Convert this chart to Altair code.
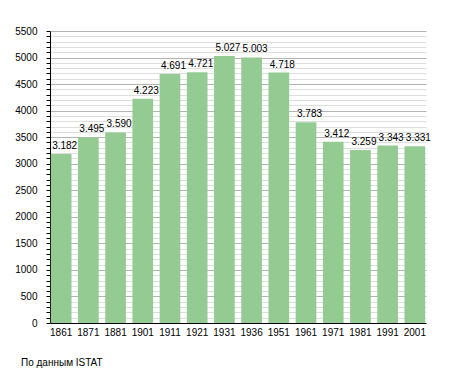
import altair as alt
import pandas as pd

years = ["1861", "1871", "1881", "1901", "1911", "1921", "1931", "1936",
         "1951", "1961", "1971", "1981", "1991", "2001"]
population = [3182, 3495, 3590, 4223, 4691, 4721, 5027, 5003,
              4718, 3783, 3412, 3259, 3343, 3331]
y_ticks = list(range(0, 5501, 100))
source_note = "По данным  ISTAT"

labels = [f"{v:,}".replace(",", ".") for v in population]
df = pd.DataFrame({"year": years, "pop": population, "label": labels})

FONT = "Liberation Sans"
FS = 10

base = alt.Chart(df)

bars = base.mark_bar(color="#93cb93").encode(
    x=alt.X("year:N", sort=None,
            scale=alt.Scale(paddingInner=0.24, paddingOuter=0.03),
            axis=alt.Axis(title=None, ticks=False, labelAngle=0, labelPadding=4,
                          domainColor="black", labelColor="black",
                          labelFontSize=FS, labelFont=FONT)),
    y=alt.Y("pop:Q",
            scale=alt.Scale(domain=[0, 5500], nice=False, zero=True),
            axis=alt.Axis(title=None, values=y_ticks, tickCount=100, format="d",
                          labelOverlap=False, labelFlush=False,
                          labelExpr="datum.value % 500 === 0 ? datum.label : ''",
                          gridColor={"condition": {"test": "datum.value % 500 === 0", "value": "#b4b4b4"},
                                     "value": "#dedede"},
                          tickColor="black", tickSize=4, labelPadding=9,
                          domainColor="black", labelColor="black",
                          labelFontSize=FS, labelFont=FONT)),
)

text = base.mark_text(baseline="alphabetic", dy=-5, dx=3.5, fontSize=FS, font=FONT,
                      color="black").encode(
    x=alt.X("year:N", sort=None),
    y="pop:Q",
    text="label:N",
)

chart = (bars + text).properties(
    width=376, height=292,
    title=alt.TitleParams(source_note, orient="bottom", anchor="start", frame="group",
                          dx=-29, offset=21, fontSize=FS, fontWeight="normal",
                          font=FONT, color="black"),
    autosize=alt.AutoSizeParams(type="none"),
    padding={"left": 42, "top": 23, "right": 21, "bottom": 50},
).configure_view(stroke=None)

chart.save("out.html", embed_options={"renderer": "svg", "actions": False})
